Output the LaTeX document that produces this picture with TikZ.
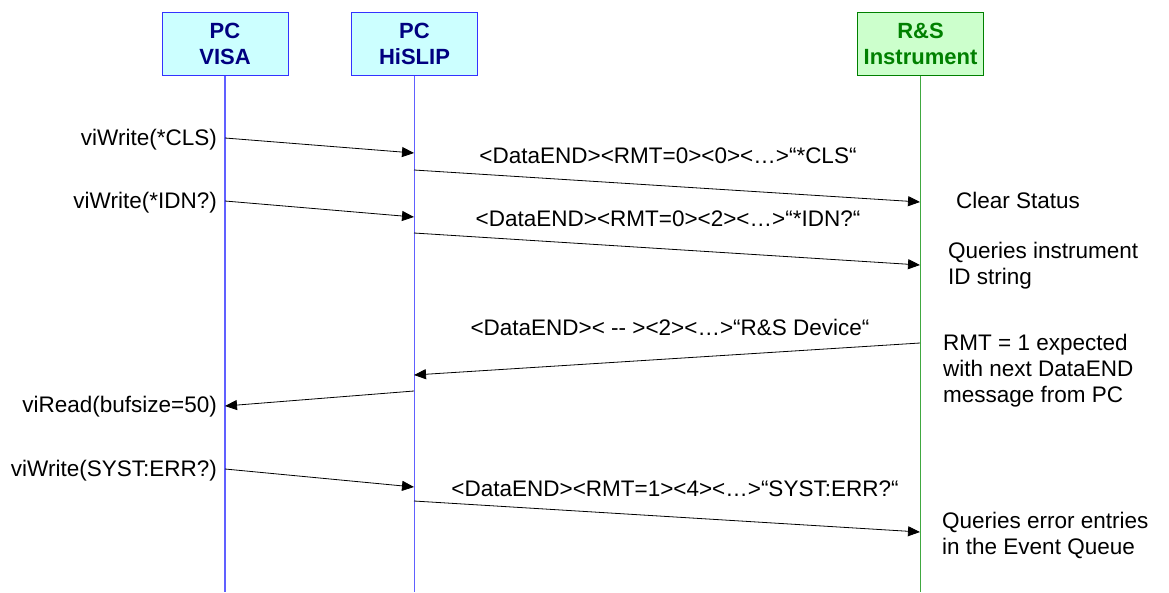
\documentclass[tikz,border=0pt]{standalone}
\usepackage{fontspec}
\setmainfont{Liberation Sans}
\usetikzlibrary{arrows.meta}

\definecolor{pcfill}{HTML}{CCFFFF}
\definecolor{pcdraw}{HTML}{3333FF}
\definecolor{pctext}{HTML}{000080}
\definecolor{pcline}{HTML}{6060FF}
\definecolor{rsfill}{HTML}{CCFFCC}
\definecolor{rsdraw}{HTML}{008000}
\definecolor{rstext}{HTML}{008000}
\definecolor{rsline}{HTML}{40A840}

\begin{document}
\begin{tikzpicture}[x=1pt,y=-1pt,
  every node/.style={font=\fontsize{22.5}{26}\selectfont},
  party/.style={draw, line width=1pt, minimum width=126pt, minimum height=63pt,
    inner sep=0pt, align=center, font=\fontsize{22}{26}\selectfont\bfseries},
  pcbox/.style={party, fill=pcfill, draw=pcdraw, text=pctext},
  rsbox/.style={party, fill=rsfill, draw=rsdraw, text=rstext},
  pclife/.style={pcline, line width=1.3pt},
  rslife/.style={rsline, line width=1.3pt},
  msg/.style={black, line width=0.8pt, -{Triangle[length=12pt,width=10pt]}},
  call/.style={anchor=base east, inner sep=0pt},
  proto/.style={anchor=base, inner sep=0pt},
  note/.style={anchor=north west, inner sep=0pt, align=left}
]
\useasboundingbox[fill=white] (0,0) rectangle (1169,592);

% participants
\node[pcbox] (visa)   at (225,43.5) {PC\\VISA};
\node[pcbox] (hislip) at (414.5,43.5) {PC\\HiSLIP};
\node[rsbox] (instr)  at (920.5,43.5) {R\&S\\Instrument};

% lifeline ends
\coordinate (visaEnd)   at (225,592);
\coordinate (hislipEnd) at (414.5,592);
\coordinate (instrEnd)  at (920.5,592);
\draw[pclife] (visa.south)   -- (visaEnd);
\draw[pclife] (hislip.south) -- (hislipEnd);
\draw[rslife] (instr.south)  -- (instrEnd);

% message anchor points on the lifelines
\coordinate (v1) at (225,138);   \coordinate (h1) at (414,153);
\coordinate (h2) at (414,170);   \coordinate (i2) at (920,202);
\coordinate (v3) at (225,201);   \coordinate (h3) at (414,217);
\coordinate (h4) at (414,233);   \coordinate (i4) at (920,265);
\coordinate (i5) at (920,343);   \coordinate (h5) at (414,375);
\coordinate (h6) at (414,391);   \coordinate (v6) at (225,406);
\coordinate (v7) at (225,469);   \coordinate (h7) at (414,487);
\coordinate (h8) at (414,501);   \coordinate (i8) at (920,532);

% messages
\draw[msg] (v1) -- (h1);
\draw[msg] (h2) -- (i2);
\draw[msg] (v3) -- (h3);
\draw[msg] (h4) -- (i4);
\draw[msg] (i5) -- (h5);
\draw[msg] (h6) -- (v6);
\draw[msg] (v7) -- (h7);
\draw[msg] (h8) -- (i8);

% VISA calls
\node[call] (c1) at (217,145) {viWrite(*CLS)};
\node[call] (c3) at (217,208) {viWrite(*IDN?)};
\node[call] (c6) at (217,412) {viRead(bufsize=50)};
\node[call] (c7) at (217,476) {viWrite(SYST:ERR?)};

% HiSLIP messages
\node[proto] (p2) at (668,163) {<DataEND><RMT=0><0><…>“*CLS“};
\node[proto] (p4) at (668,226) {<DataEND><RMT=0><2><…>“*IDN?“};
\node[proto] (p5) at (670,335) {<DataEND>< -{}- ><2><…>“R\&S Device“};
\node[proto] (p8) at (675,496) {<DataEND><RMT=1><4><…>“SYST:ERR?“};

% instrument notes
\node[note] (n2) at (956,191.5) {Clear Status};
\node[note] (n4) at (948,241.5) {Queries instrument\\ID string};
\node[note] (n5) at (943,333.5) {RMT = 1 expected\\with next DataEND\\message from PC};
\node[note] (n8) at (942,511.5) {Queries error entries\\in the Event Queue};
\end{tikzpicture}
\end{document}
